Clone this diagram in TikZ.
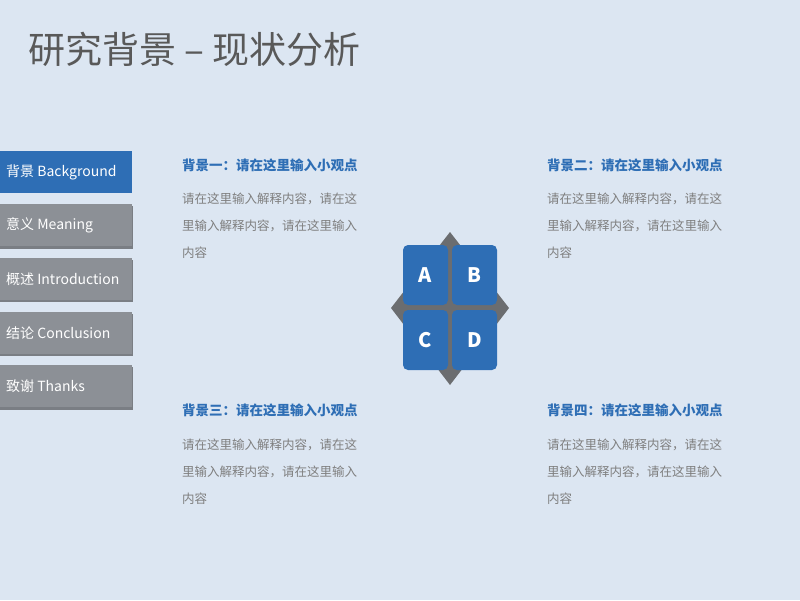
\documentclass[tikz,border=0pt]{standalone}
\usepackage{fontspec}
\setmainfont{Noto Sans CJK SC}
\newfontfamily\cjk{Noto Sans CJK SC}
\definecolor{bg}{HTML}{DCE6F2}
\definecolor{mblue}{HTML}{2E6EB5}
\definecolor{mgray}{HTML}{8C9096}
\definecolor{mgrayd}{HTML}{7A7E84}
\definecolor{dgray}{HTML}{6B6D70}
\definecolor{ttl}{HTML}{595959}
\definecolor{body}{HTML}{7F7F7F}
\tikzset{
  menubtn/.style={rectangle, minimum width=132pt, minimum height=42pt, inner sep=0pt, anchor=north west, fill=mgray},
  menutxt/.style={anchor=west, text=white, font=\cjk\fontsize{14}{16}\selectfont, inner sep=0pt},
  letterbox/.style={rectangle, rounded corners=5pt, fill=mblue, minimum width=45pt, minimum height=60pt, inner sep=0pt, text=white, font=\cjk\bfseries\fontsize{20}{22}\selectfont},
  headtxt/.style={anchor=west, inner sep=0pt, text=mblue, font=\cjk\bfseries\fontsize{13.5}{16}\selectfont},
  bodytxt/.style={anchor=north west, inner sep=0pt, text=body, align=left, font=\cjk\fontsize{12.5}{27}\selectfont},
}
\begin{document}
\begin{tikzpicture}[x=1pt,y=-1pt]
\fill[bg] (0,0) rectangle (800,600);
\useasboundingbox (0,0) rectangle (800,600);
% title
\node[anchor=west, inner sep=0pt, text=ttl, font=\cjk\fontsize{37}{40}\selectfont] (title) at (28,49) {研究背景 – 现状分析};
% menu
\fill[mgrayd] (0,206) rectangle (133,249);
\fill[mgrayd] (0,260) rectangle (133,302);
\fill[mgrayd] (0,314) rectangle (133,356);
\fill[mgrayd] (0,367) rectangle (133,410);
\node[menubtn, fill=mblue] (m1) at (0,151) {};
\node[menubtn] (m2) at (0,204) {};
\node[menubtn] (m3) at (0,258) {};
\node[menubtn] (m4) at (0,312) {};
\node[menubtn] (m5) at (0,365) {};
\node[menutxt] (t1) at (6,172) {背景 Background};
\node[menutxt] (t2) at (6,225.5) {意义 Meaning};
\node[menutxt] (t3) at (6,279) {概述 Introduction};
\node[menutxt] (t4) at (6,333) {结论 Conclusion};
\node[menutxt] (t5) at (6,386.5) {致谢 Thanks};
% center diagram
\fill[dgray] (450,232) -- (509,308) -- (450,385) -- (391,308) -- cycle;
\node[letterbox] (A) at (425.5,275) {A};
\node[letterbox] (B) at (474.5,275) {B};
\node[letterbox] (C) at (425.5,340) {C};
\node[letterbox] (D) at (474.5,340) {D};
% text blocks
\node[headtxt] (h1) at (182,165) {背景一：请在这里输入小观点};
\node[bodytxt] (b1) at (182,193) {请在这里输入解释内容，请在这\\里输入解释内容，请在这里输入\\内容};
\node[headtxt] (h2) at (547,165) {背景二：请在这里输入小观点};
\node[bodytxt] (b2) at (547,193) {请在这里输入解释内容，请在这\\里输入解释内容，请在这里输入\\内容};
\node[headtxt] (h3) at (182,410) {背景三：请在这里输入小观点};
\node[bodytxt] (b3) at (182,439) {请在这里输入解释内容，请在这\\里输入解释内容，请在这里输入\\内容};
\node[headtxt] (h4) at (547,410) {背景四：请在这里输入小观点};
\node[bodytxt] (b4) at (547,439) {请在这里输入解释内容，请在这\\里输入解释内容，请在这里输入\\内容};
\end{tikzpicture}
\end{document}
